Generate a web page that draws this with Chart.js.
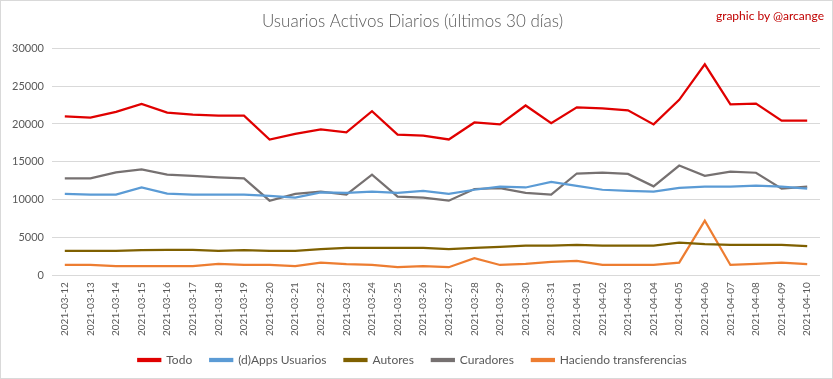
<!doctype html>
<html lang="es">
  <head>
    <meta charset="utf-8">
    <title>Usuarios Activos Diarios</title>
    <script src="https://cdn.jsdelivr.net/npm/chart.js"></script>
    <style>
      html, body { margin: 0; padding: 0; background: #fff; }
      .frame { position: relative; width: 831px; height: 377px; border: 1px solid #d9d9d9; }
      .credit { position: absolute; right: 8px; top: 7px; font: 12px Lato, sans-serif; color: #c00000; }
      canvas { display: block; }
    </style>
  </head>
  <body>
    <div class="frame">
      <canvas id="dauChart" width="831" height="377"></canvas>
      <div class="credit">graphic by @arcange</div>
    </div>
    <script>
      const dates = ['2021-03-12','2021-03-13','2021-03-14','2021-03-15','2021-03-16','2021-03-17','2021-03-18','2021-03-19','2021-03-20','2021-03-21',
        '2021-03-22','2021-03-23','2021-03-24','2021-03-25','2021-03-26','2021-03-27','2021-03-28','2021-03-29','2021-03-30','2021-03-31',
        '2021-04-01','2021-04-02','2021-04-03','2021-04-04','2021-04-05','2021-04-06','2021-04-07','2021-04-08','2021-04-09','2021-04-10'];
      const todo = [21000, 20850, 21600, 22650, 21500, 21250, 21100, 21100, 17950, 18700,
        19300, 18900, 21700, 18600, 18450, 17950, 20200, 19950, 22450, 20100,
        22200, 22050, 21800, 19950, 23200, 27900, 22600, 22700, 20450, 20450];
      const appsUsuarios = [10750, 10650, 10650, 11600, 10800, 10650, 10650, 10650, 10500, 10250,
        10950, 10900, 11050, 10900, 11150, 10750, 11300, 11700, 11600, 12350,
        11800, 11300, 11150, 11050, 11550, 11700, 11700, 11850, 11700, 11450];
      const autores = [3200, 3200, 3200, 3300, 3350, 3350, 3200, 3300, 3200, 3200,
        3450, 3600, 3600, 3600, 3600, 3450, 3600, 3750, 3900, 3900,
        4000, 3900, 3900, 3900, 4300, 4100, 4000, 4000, 4000, 3850];
      const curadores = [12800, 12800, 13600, 14000, 13300, 13150, 12950, 12800, 9850, 10750,
        11050, 10650, 13300, 10400, 10250, 9850, 11400, 11500, 10900, 10650,
        13450, 13550, 13400, 11750, 14500, 13150, 13700, 13550, 11450, 11700];
      const transferencias = [1350, 1350, 1200, 1200, 1200, 1200, 1500, 1350, 1350, 1200,
        1650, 1450, 1350, 1050, 1200, 1050, 2250, 1350, 1500, 1750,
        1900, 1350, 1350, 1350, 1650, 7200, 1350, 1500, 1650, 1450];
      const yTicks = [0, 5000, 10000, 15000, 20000, 25000, 30000];

      const txt = '#595959';
      const serie = (label, data, color) => ({
        label, data, borderColor: color, backgroundColor: color,
        borderWidth: 2.25, pointRadius: 0, tension: 0, fill: false
      });

      new Chart(document.getElementById('dauChart'), {
        type: 'line',
        data: {
          labels: dates,
          datasets: [
            serie('Todo', todo, '#e00000'),
            serie('(d)Apps Usuarios', appsUsuarios, '#5b9bd5'),
            serie('Autores', autores, '#7f6000'),
            serie('Curadores', curadores, '#767171'),
            serie('Haciendo transferencias', transferencias, '#ed7d31')
          ]
        },
        options: {
          responsive: false,
          animation: false,
          layout: { padding: { left: 4, right: 12, top: 0, bottom: 2 } },
          scales: {
            x: {
              offset: true,
              grid: { display: false, drawTicks: false },
              border: { display: false },
              afterFit: s => { s.height -= 7; },
              ticks: { color: txt, font: { family: 'Lato', size: 10 }, minRotation: 90, maxRotation: 90, padding: 7, autoSkip: false }
            },
            y: {
              min: 0, max: 30000,
              afterBuildTicks: s => { s.ticks = yTicks.map(v => ({ value: v })); },
              afterFit: s => { s.width = 47; },
              grid: { color: '#d9d9d9', drawTicks: false },
              border: { display: false },
              ticks: { color: txt, font: { family: 'Lato', size: 11 }, padding: 8, callback: v => String(v) }
            }
          },
          plugins: {
            title: {
              display: true,
              text: 'Usuarios Activos Diarios (últimos 30 días)',
              color: txt,
              font: { family: 'Lato', size: 17, weight: 300 },
              padding: { top: 10, bottom: 17 }
            },
            legend: {
              position: 'bottom',
              labels: { color: txt, font: { family: 'Lato', size: 12 }, boxWidth: 22, boxHeight: 2, padding: 18 }
            },
            tooltip: { enabled: false }
          }
        }
      });
    </script>
  </body>
</html>
